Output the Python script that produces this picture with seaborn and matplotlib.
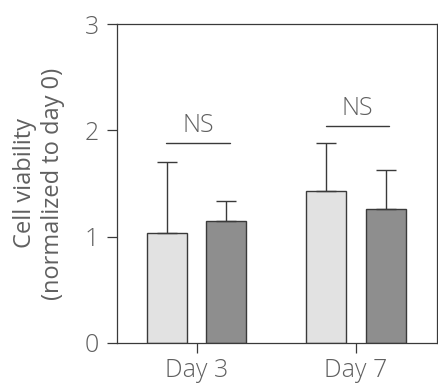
import matplotlib
matplotlib.use("Agg")
import matplotlib.pyplot as plt
import seaborn as sns
import pandas as pd
import numpy as np

days = ["Day 3", "Day 7"]
groups = ["Control", "Treated"]
means = {"Control": [1.03, 1.43], "Treated": [1.15, 1.26]}
err_up = {"Control": [0.67, 0.45], "Treated": [0.19, 0.37]}
sig_labels = ["NS", "NS"]
sig_heights = [1.88, 2.04]
yticks = [0, 1, 2, 3]

rows = []
for g in groups:
    for i, d in enumerate(days):
        rows.append({"day": d, "group": g, "value": means[g][i], "err": err_up[g][i]})
df = pd.DataFrame(rows)

sns.set_style("ticks")
plt.rcParams["font.family"] = ["Open Sans", "DejaVu Sans"]
plt.rcParams["font.weight"] = "light"

text_col = "#606060"
line_col = "#3a3a3a"
fs = 18

fig = plt.figure(figsize=(4.38, 3.91), dpi=100)
ax = fig.add_axes([0.267, 0.1228, 0.731, 0.8158])

sns.barplot(data=df, x="day", y="value", hue="group", order=days, hue_order=groups,
            palette=["#e2e2e2", "#8e8e8e"], width=0.75, gap=0.33, errorbar=None,
            edgecolor=line_col, linewidth=1.0, legend=False, ax=ax)

# error bars (upper only), positioned from drawn bars
for container, g in zip(ax.containers, groups):
    xs = [p.get_x() + p.get_width() / 2 for p in container.patches]
    ys = [p.get_height() for p in container.patches]
    ax.errorbar(xs, ys, yerr=[np.zeros(len(ys)), err_up[g]], fmt="none",
                ecolor=line_col, elinewidth=1.0, capsize=7, capthick=1.0, zorder=3)

ax.set_ylim(0, 3)
ax.set_xlim(-0.5, 1.51)
ax.set_yticks(yticks)
ax.set_xlabel("")
ax.set_ylabel("Cell viability\n(normalized to day 0)", color=text_col, fontsize=fs - 1,
              linespacing=1.25, labelpad=14)

for i, (lab, h) in enumerate(zip(sig_labels, sig_heights)):
    ax.plot([i - 0.19, i + 0.21], [h, h], color=line_col, lw=1.0)
    ax.text(i + 0.01, h + 0.05, lab, ha="center", va="bottom", color=text_col, fontsize=fs)

for s in ["top", "right", "left", "bottom"]:
    ax.spines[s].set_visible(True)
    ax.spines[s].set_color(line_col)
    ax.spines[s].set_linewidth(0.9)

ax.tick_params(axis="both", colors=line_col, labelcolor=text_col, labelsize=fs,
               width=0.9)
ax.tick_params(axis="y", length=7, pad=6)
ax.tick_params(axis="x", length=7, pad=4)

fig.savefig("out.png", dpi=100)
